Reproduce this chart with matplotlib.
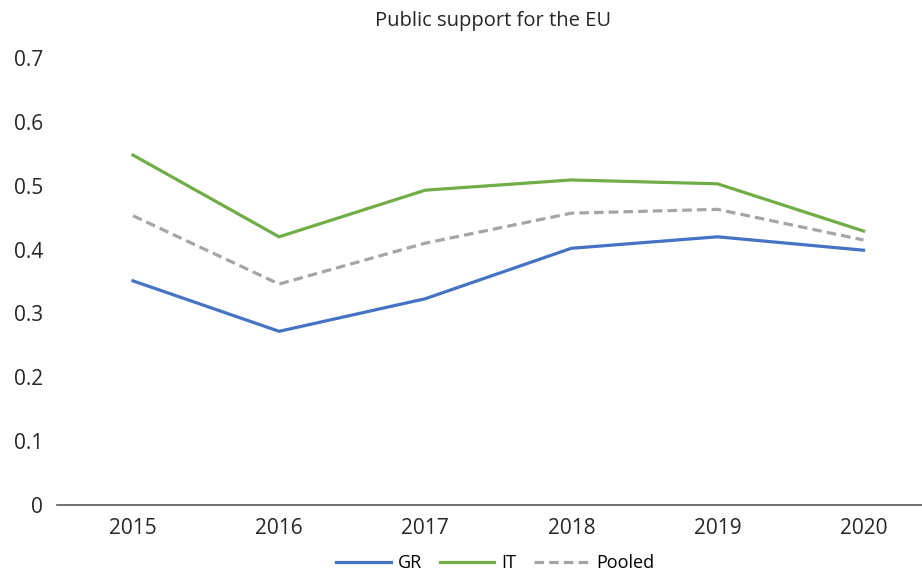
import matplotlib.pyplot as plt

plt.rcParams['font.family'] = ['Open Sans', 'DejaVu Sans']

years = ['2015', '2016', '2017', '2018', '2019', '2020']
gr = [0.351, 0.272, 0.323, 0.402, 0.420, 0.399]
it = [0.548, 0.420, 0.493, 0.509, 0.503, 0.429]
pooled = [0.453, 0.346, 0.410, 0.457, 0.463, 0.415]

fig = plt.figure(figsize=(9.22, 5.75), dpi=100)
ax = fig.add_axes([57/922, 70/575, 865/922, 447/575])
x = range(len(years))
ax.plot(x, gr, color='#4472C4', lw=2.3, label='GR')
ax.plot(x, it, color='#70AD47', lw=2.3, label='IT')
ax.plot(x, pooled, color='#A5A5A5', lw=2.3, ls=(0, (3, 1.6)), label='Pooled')

ax.set_xlim(-0.52, 5.4)
ax.set_ylim(0, 0.7)
ax.set_xticks(list(x))
ax.set_xticklabels(years)
ax.set_yticks([0, 0.1, 0.2, 0.3, 0.4, 0.5, 0.6, 0.7])
ax.set_yticklabels(['0', '0.1', '0.2', '0.3', '0.4', '0.5', '0.6', '0.7'])
ax.tick_params(axis='both', length=0, labelsize=15, colors='#262626')
ax.tick_params(axis='y', pad=10)
ax.tick_params(axis='x', pad=9)
for s in ['top', 'right', 'left']:
    ax.spines[s].set_visible(False)
ax.spines['bottom'].set_color('#595959')
ax.spines['bottom'].set_linewidth(1.2)

fig.text(0.535, 0.963, 'Public support for the EU', ha='center', va='center',
         fontsize=14.5, color='#262626')
fig.legend(loc='center', bbox_to_anchor=(0.537, 0.02), ncol=3, frameon=False,
           fontsize=13, handlelength=3.0, columnspacing=1.0, handletextpad=0.4)
fig.savefig('out.png')
